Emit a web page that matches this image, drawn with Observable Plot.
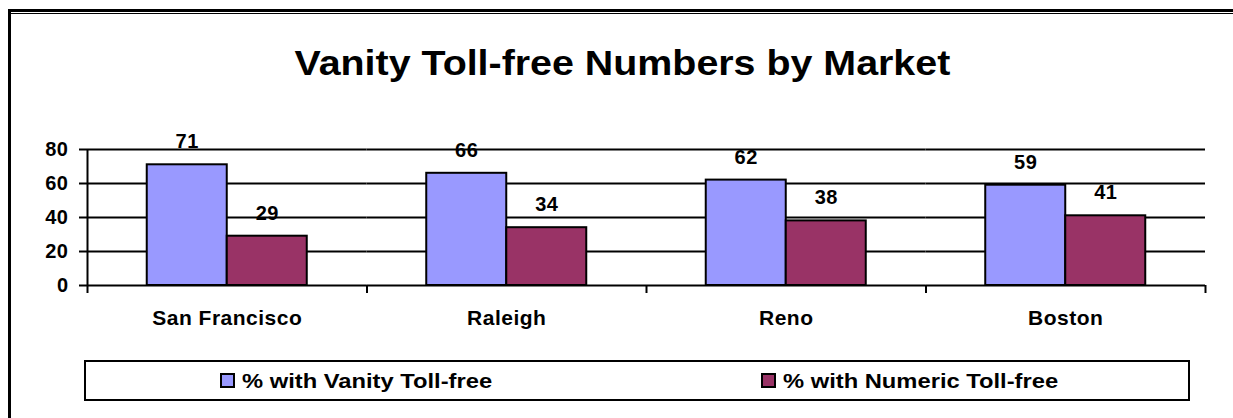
<!DOCTYPE html>
<html><head><meta charset="utf-8">
<script src="https://cdn.jsdelivr.net/npm/d3@7"></script>
<script src="https://cdn.jsdelivr.net/npm/@observablehq/plot@0.6"></script>
<style>
html,body{margin:0;padding:0;background:#fff;}
#wrap{position:relative;width:1233px;height:418px;overflow:hidden;font-family:"Liberation Sans",Arial,sans-serif;font-weight:bold;color:#000;background:#fff;}
.line{position:absolute;background:#000;}
#title{position:absolute;left:0;top:45px;width:1245px;text-align:center;font-size:35px;line-height:35px;white-space:nowrap;}
#title span{display:inline-block;transform:scaleX(1.125);}
#chart{position:absolute;left:0;top:120px;}
#chart svg text{letter-spacing:0.5px;}
#legend{position:absolute;left:84px;top:360px;width:1106px;height:41px;box-sizing:border-box;border:2px solid #000;background:#fff;}
.item{position:absolute;top:0;height:37px;display:flex;align-items:center;}
.sw{width:15px;height:15px;box-sizing:border-box;border:2px solid #000;margin-right:7px;flex:none;}
.lt{font-size:21px;transform:scaleX(1.13);transform-origin:left center;white-space:nowrap;}
</style></head>
<body>
<div id="wrap">
  <div class="line" style="left:8px;top:9px;width:3px;height:409px;"></div>
  <div class="line" style="left:8px;top:9px;width:1225px;height:3px;"></div>
  <div class="line" style="left:11px;top:13px;width:1222px;height:1px;"></div>
  <div id="title"><span></span></div>
  <div id="chart"></div>
  <div id="legend"></div>
</div>
<script>
const title = "Vanity Toll-free Numbers by Market";
const markets = ["San Francisco", "Raleigh", "Reno", "Boston"];
const seriesNames = ["% with Vanity Toll-free", "% with Numeric Toll-free"];
const vanity = [71, 66, 62, 59];
const numeric = [29, 34, 38, 41];
const colors = ["#9999FF", "#993366"];
const yTicks = [0, 20, 40, 60, 80];
const yDomain = [0, 80];

document.querySelector("#title span").textContent = title;

const data = markets.flatMap((m, i) => [
  {market: m, series: seriesNames[0], value: vanity[i]},
  {market: m, series: seriesNames[1], value: numeric[i]}
]);

const W = 1233, H = 220, ML = 87, MR = 28, MT = 29, MB = 55;
const step = (W - ML - MR) / markets.length;
const groupFrac = 0.5725;
const po = (1 - groupFrac) / groupFrac;
const barW = groupFrac * step / 2;
const firstCenter = po * barW + barW / 2;

const chart = Plot.plot({
  width: W, height: H,
  marginLeft: ML, marginRight: MR, marginTop: MT, marginBottom: MB,
  style: {fontFamily: "'Liberation Sans', Arial, sans-serif", fontWeight: "bold", color: "#000", background: "transparent", overflow: "visible"},
  fx: {domain: markets, padding: 0, round: false, axis: null, label: null},
  x: {domain: seriesNames, paddingInner: 0, paddingOuter: po, round: false, axis: null},
  y: {domain: yDomain, axis: null},
  color: {domain: seriesNames, range: colors},
  marks: [
    Plot.ruleY(yTicks, {stroke: "#000", strokeWidth: 2}),
    Plot.barY(data, {fx: "market", x: "series", y: "value", fill: "series", stroke: "#000", strokeWidth: 2}),
    Plot.text(data, {fx: "market", x: "series", y: "value", text: d => String(d.value), dy: -23, fontSize: 20, fontWeight: "bold", fill: "#000"}),
    Plot.ruleX(markets.slice(0, 1), {fx: d => d, x: () => seriesNames[0], dx: -firstCenter, y1: yDomain[0], y2: yDomain[1], stroke: "#000", strokeWidth: 2}),
    Plot.axisY({ticks: yTicks, tickSize: 8, tickPadding: 11, fontSize: 20, fontWeight: "bold", strokeWidth: 2, label: null}),
    Plot.axisFx({anchor: "bottom", tickSize: 8, dx: -step / 2, tickFormat: () => "", strokeWidth: 2, label: null}),
    Plot.axisFx({anchor: "bottom", ticks: markets.slice(-1), tickSize: 8, dx: step / 2, tickFormat: () => "", strokeWidth: 2, label: null}),
    Plot.axisFx({anchor: "bottom", tickSize: 0, tickPadding: 25, fontSize: 21, fontWeight: "bold", label: null})
  ]
});
document.getElementById("chart").appendChild(chart);

const legend = document.getElementById("legend");
const itemLefts = [134, 675];
seriesNames.forEach((s, i) => {
  const it = document.createElement("div");
  it.className = "item";
  it.style.left = itemLefts[i] + "px";
  const sw = document.createElement("div");
  sw.className = "sw";
  sw.style.background = colors[i];
  const t = document.createElement("span");
  t.className = "lt";
  t.textContent = s;
  it.appendChild(sw); it.appendChild(t);
  legend.appendChild(it);
});
</script>
</body></html>
